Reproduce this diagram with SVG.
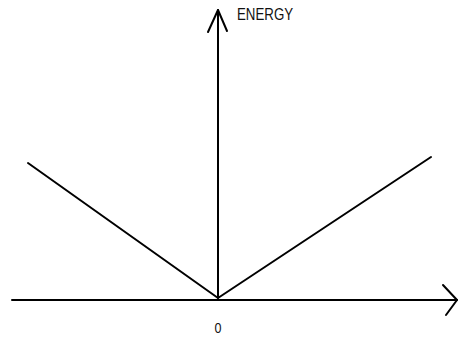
<svg xmlns="http://www.w3.org/2000/svg" width="460" height="337" viewBox="0 0 460 337">
<style>
.ln{stroke:#000;stroke-width:2;fill:none;stroke-linecap:round;stroke-linejoin:round}
.t{font-family:"Liberation Sans",Arial,sans-serif;font-size:14px;fill:#111}
</style>
<rect width="460" height="337" fill="#fff"/>
<g id="connectors">
<path class="ln" d="M12,300 H457"/>
<path class="ln" d="M443,285 L457,300 L446,315"/>
<path class="ln" d="M218,298 V10"/>
<path class="ln" d="M208,32 L218,10 L227,31"/>
<path class="ln" d="M28,163 L218,298 L431,157"/>
</g>
<g id="label-energy"><text class="t" x="237" y="20" transform="translate(237 20) scale(0.95 1.15) translate(-237 -20)">ENERGY</text></g>
<g id="label-zero"><text class="t" x="218" y="333" text-anchor="middle" transform="translate(218 333) scale(0.9 1.1) translate(-218 -333)">0</text></g>
</svg>
